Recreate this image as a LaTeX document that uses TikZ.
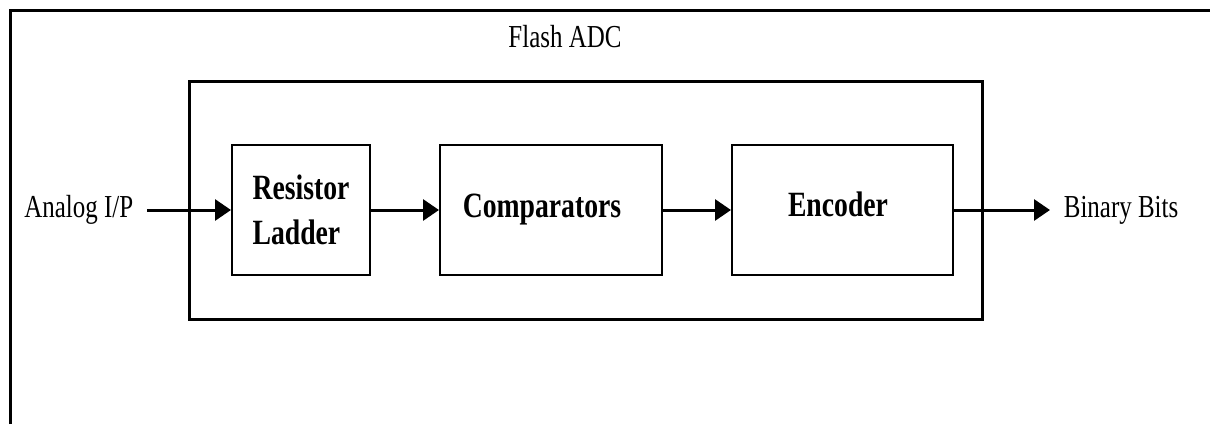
\documentclass[tikz,border=0pt]{standalone}
\usepackage{fontspec}
\setmainfont[FakeStretch=0.78]{Liberation Serif}
\usetikzlibrary{arrows.meta,positioning}

\begin{document}
\begin{tikzpicture}[
        x=0.5pt, y=-0.5pt,
        blk/.style = {draw, line width=1pt, inner sep=0pt,
                      minimum height=65pt,
                      font=\bfseries\fontsize{17.75pt}{22.5pt}\selectfont},
        lbl/.style = {inner sep=0pt, inner xsep=6.75pt,
                      font=\fontsize{16pt}{19pt}\selectfont},
        sig/.style = {-{Triangle[length=8pt,width=10.5pt]}, line width=1.5pt},
        ]
        \useasboundingbox (0,0) rectangle (1210,424);

        % frame round the page
        \draw[line width=1.5pt] (10.5,424) -- (10.5,10) -- (1210,10);

        % the converter itself
        \node[draw, line width=1.5pt, minimum width=396.5pt, minimum height=119pt,
              inner sep=0pt](adc) at (585.5,200) {};
        \node[lbl](title) at (565,37) {Flash ADC};

        \node[blk, minimum width=69pt, align=left](ladder) at (301,210)
              {Resistor\\Ladder};
        \node[blk, minimum width=111pt](comp) at (551,210)
              {\hspace*{-9pt}Comparators};
        \node[blk, minimum width=110.5pt](enc) at (842.5,210)
              {\hspace*{-4.5pt}\raisebox{5.5pt}{Encoder}};

        % input and output
        \node[lbl, anchor=west](in) at (10.5,210) {Analog I/P};
        \node[lbl, anchor=west](out) at (1050,210) {Binary Bits};

        \draw[sig] (in.east) -- (ladder.west);
        \draw[sig] (ladder.east) -- (comp.west);
        \draw[sig] (comp.east) -- (enc.west);
        \draw[sig] (enc.east) -- (out.west);

        \end{tikzpicture}
\end{document}
